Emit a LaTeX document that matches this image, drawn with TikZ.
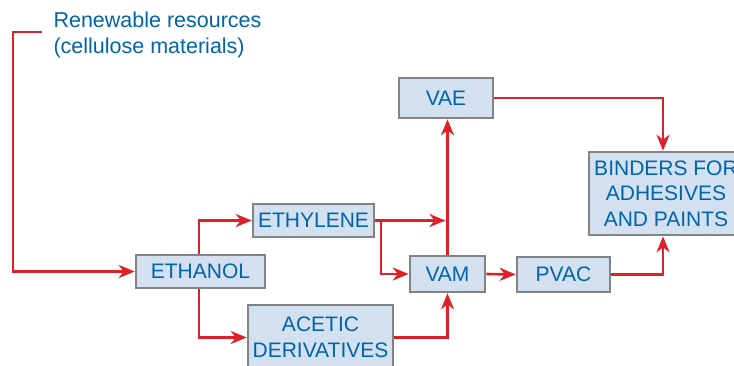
\documentclass[tikz,border=0pt]{standalone}
\usepackage{fontspec}
\setmainfont{Liberation Sans}
\usetikzlibrary{arrows.meta}
\definecolor{txtblue}{RGB}{0,100,170}
\definecolor{boxfill}{RGB}{211,224,240}
\definecolor{boxline}{RGB}{128,131,135}
\definecolor{flowred}{RGB}{222,32,40}
\tikzset{
  boxnode/.style={draw=boxline, fill=boxfill, line width=2.6pt, text=txtblue, align=center,
    font=\fontsize{21}{25.5}\selectfont, inner sep=0pt},
  flow/.style={draw=flowred, line width=2.6pt, -{Stealth[length=16pt,width=13pt,inset=5pt]}}
}
\begin{document}
\begin{tikzpicture}[x=1pt,y=-1pt]
\useasboundingbox (0,0) rectangle (734,365);
\clip (0,0) rectangle (734,365);
\node[text=txtblue, align=left, anchor=base west, font=\fontsize{21.5}{26}\selectfont] (renew) at (50,53)
  {Renewable resources\\(cellulose materials)};
\node[boxnode, minimum width=129pt, minimum height=33pt] (ethanol) at (200.5,271.5) {ETHANOL};
\node[boxnode, minimum width=121pt, minimum height=33pt] (ethylene) at (313.5,220.5) {ETHYLENE};
\node[boxnode, minimum width=145pt, minimum height=65pt] (acetic) at (320.5,337.5) {ACETIC\\DERIVATIVES};
\node[boxnode, minimum width=94pt, minimum height=40pt] (vae) at (446,98) {VAE};
\node[boxnode, minimum width=75pt, minimum height=36pt] (vam) at (447.5,274) {VAM};
\node[boxnode, minimum width=93pt, minimum height=35pt] (pvac) at (563.5,274.5) {PVAC};
\node[boxnode, minimum width=154pt, minimum height=83pt] (binders) at (666,193.5) {BINDERS FOR\\ADHESIVES\\AND PAINTS};
\coordinate (rs) at (42,32);
\coordinate (join) at (445.5,220.5);
% connectors
\draw[flow] (rs) -- (13,32) |- (ethanol.west);
\draw[flow] ([xshift=-1.5pt]ethanol.north) |- (ethylene.west);
\draw[flow] ([xshift=-1.5pt]ethanol.south) |- (acetic.west);
\draw[flow] (ethylene.east) -- (join);
\draw[flow] (ethylene.east) -- ++(5.5,0) |- (vam.west);
\draw[flow] (acetic.east) -| (vam.south);
\draw[flow] (vam.north) -- (vam.north |- vae.south);
\draw[flow] (vam.east) -- (pvac.west);
\draw[flow] (vae.east) -| ([xshift=-3pt]binders.north);
\draw[flow] (pvac.east) -| ([xshift=-3pt]binders.south);
\end{tikzpicture}
\end{document}
